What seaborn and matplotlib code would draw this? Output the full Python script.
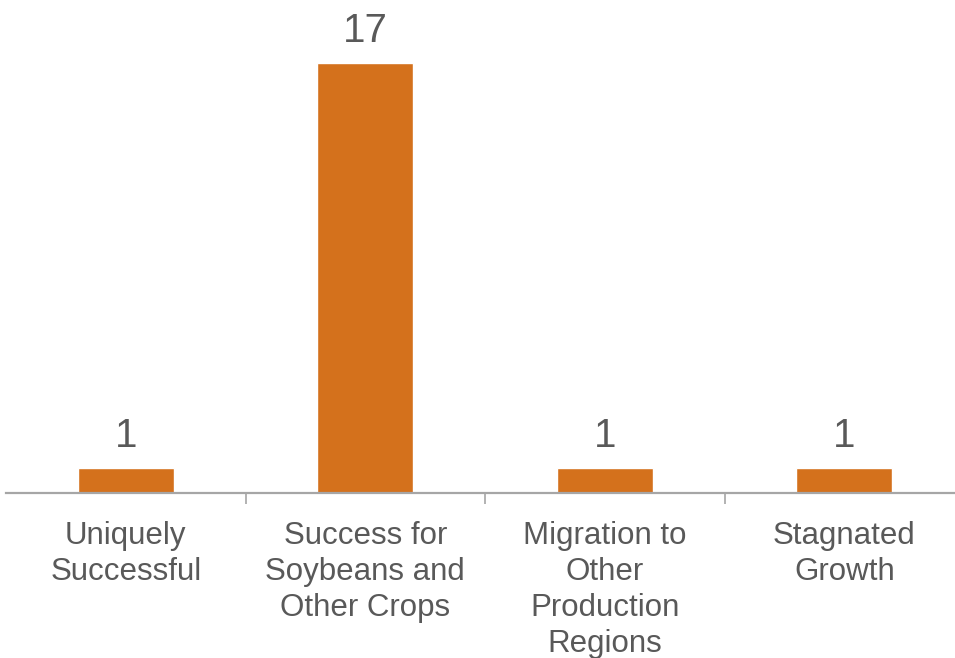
import matplotlib
matplotlib.use("Agg")
import matplotlib.pyplot as plt
import seaborn as sns
import pandas as pd
import numpy as np

categories = [
    "Uniquely\nSuccessful",
    "Success for\nSoybeans and\nOther Crops",
    "Migration to\nOther\nProduction\nRegions",
    "Stagnated\nGrowth",
]
counts = [1, 17, 1, 1]

bar_color = "#D4711C"
text_color = "#595959"
axis_color = "#A6A6A6"

sns.set_theme(style="white")
plt.rcParams["font.family"] = ["Liberation Sans", "DejaVu Sans"]

df = pd.DataFrame({"category": categories, "count": counts})

W, H = 955, 658
fig = plt.figure(figsize=(W / 100, H / 100), dpi=100)
# axes spans past the right edge so the four slots stay evenly spaced
ax = fig.add_axes([6 / W, 165 / H, 958 / W, 493 / H])

sns.barplot(data=df, x="category", y="count", color=bar_color,
            width=0.4, saturation=1, ax=ax)

ax.set_xlim(-0.5, len(categories) - 0.5)
ax.set_ylim(0, 19.49)

for c in ax.containers:
    ax.bar_label(c, labels=[str(v) for v in counts], padding=9,
                 fontsize=29, color=text_color)

for s in ["top", "right", "left"]:
    ax.spines[s].set_visible(False)
ax.spines["bottom"].set_color(axis_color)
ax.spines["bottom"].set_linewidth(1.6)

ax.set_yticks([])
ax.set_xlabel("")
ax.set_ylabel("")

ax.set_xticks(range(len(categories)))
ax.set_xticklabels(categories, fontsize=22.5, color=text_color, linespacing=1.26)
ax.tick_params(axis="x", which="major", length=0, pad=20)
ax.set_xticks(np.arange(0.5, len(categories) - 1, 1.0), minor=True)
ax.tick_params(axis="x", which="minor", length=8, width=1.2,
               color=axis_color, direction="out", bottom=True)

fig.savefig("out.png", dpi=100)
